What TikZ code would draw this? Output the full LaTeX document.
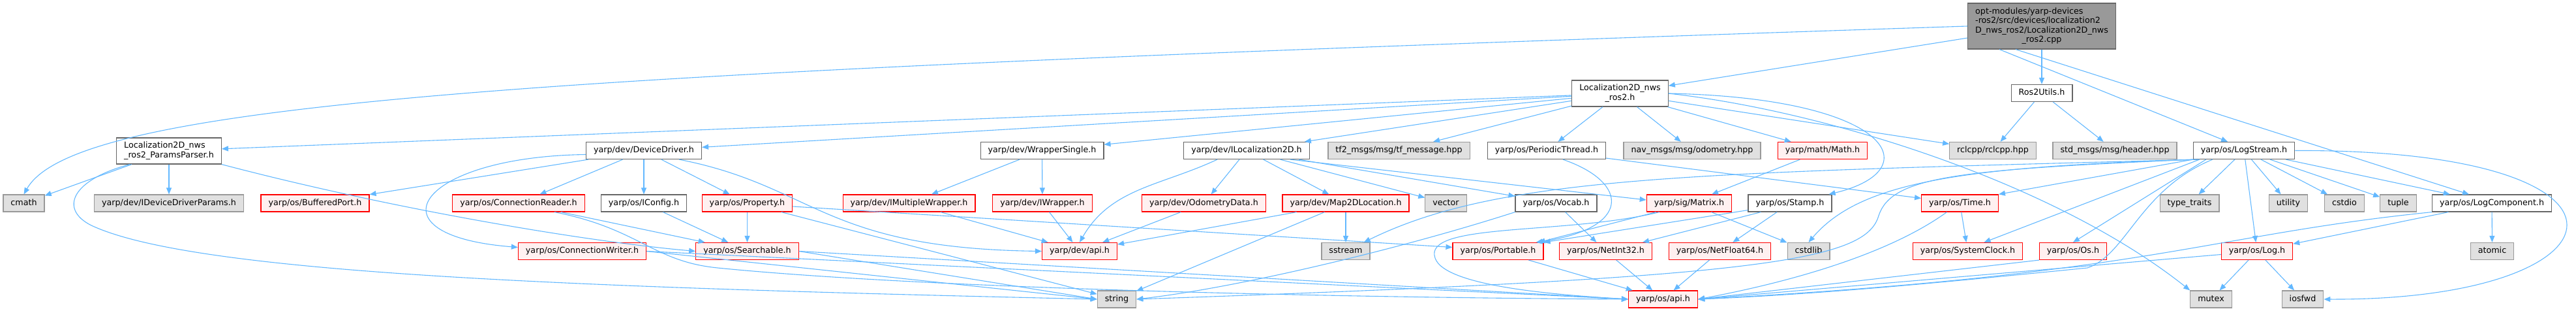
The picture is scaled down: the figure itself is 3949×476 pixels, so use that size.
\documentclass[tikz,border=0pt]{standalone}
\usepackage{fontspec}
\newfontfamily\dxfont{DejaVu Sans}
\usetikzlibrary{arrows.meta}
\definecolor{edgeblue}{HTML}{63B8FF}
\definecolor{hdrline}{HTML}{666666}
\definecolor{sysfill}{HTML}{E0E0E0}
\definecolor{sysline}{HTML}{999999}
\definecolor{incfill}{HTML}{FFF0F0}
\definecolor{incline}{HTML}{FF0000}
\definecolor{mainfill}{HTML}{999999}
\newcommand{\splitname}[2]{\begin{tabular}{@{}l@{}}#1\\\multicolumn{1}{@{}c@{}}{#2}\end{tabular}}
\begin{document}
\begin{tikzpicture}[x=1pt, y=-1pt,
  box/.style={draw, line width=1.2pt, font=\dxfont\fontsize{12.7}{14.5}\selectfont, inner xsep=11.5pt, inner ysep=2pt, minimum height=26pt, text height=9.6pt, text depth=2.9pt},
  hdr/.style={box, draw=hdrline, fill=white},
  sys/.style={box, draw=sysline, fill=sysfill},
  inc/.style={box, draw=incline, fill=incfill},
  multi/.style={text height={}, text depth={}, minimum height=40pt},
  main/.style={box, multi, draw=hdrline, fill=mainfill, minimum height=70pt},
  dep/.style={draw=edgeblue, line width=1.1pt, -{Triangle[length=10pt,width=8pt]}}]
\useasboundingbox (0,0) rectangle (3949,476);
\node[main] (cpp) at (3130,40) {\begin{tabular}{@{}l@{}}opt-modules/yarp-devices\\-ros2/src/devices/localization2\\D\_nws\_ros2/Localization2D\_nws\\\multicolumn{1}{@{}c@{}}{\_ros2.cpp}\end{tabular}};
\node[hdr, multi] (loc) at (2483.5,143) {\splitname{Localization2D\_nws}{\_ros2.h}};
\node[hdr] (rosutils) at (3130,142.5) {Ros2Utils.h};
\node[hdr, multi] (params) at (259,231) {\splitname{Localization2D\_nws}{\_ros2\_ParamsParser.h}};
\node[hdr] (devdrv) at (987,230.5) {yarp/dev/DeviceDriver.h};
\node[hdr] (wrapsingle) at (1597.5,230.5) {yarp/dev/WrapperSingle.h};
\node[hdr] (iloc) at (1911,230.5) {yarp/dev/ILocalization2D.h};
\node[sys] (tfmsg) at (2144.5,230.5) {tf2\_msgs/msg/tf\_message.hpp};
\node[hdr] (periodic) at (2371,230.5) {yarp/os/PeriodicThread.h};
\node[sys] (navodom) at (2594,230.5) {nav\_msgs/msg/odometry.hpp};
\node[inc] (math) at (2794,230.5) {yarp/math/Math.h};
\node[sys] (rclcpp) at (3055,230.5) {rclcpp/rclcpp.hpp};
\node[sys] (header) at (3242,230.5) {std\_msgs/msg/header.hpp};
\node[hdr] (logstream) at (3440,230.5) {yarp/os/LogStream.h};
\node[sys] (cmath) at (36.5,311) {cmath};
\node[sys] (ddparams) at (259,311) {yarp/dev/IDeviceDriverParams.h};
\node[inc] (bufport) at (483,311) {yarp/os/BufferedPort.h};
\node[inc] (connreader) at (795,311) {yarp/os/ConnectionReader.h};
\node[hdr] (iconfig) at (987,311) {yarp/os/IConfig.h};
\node[inc] (property) at (1145.5,311) {yarp/os/Property.h};
\node[inc] (imulti) at (1393.5,311) {yarp/dev/IMultipleWrapper.h};
\node[inc] (iwrapper) at (1598,311) {yarp/dev/IWrapper.h};
\node[inc] (odom) at (1845.5,311) {yarp/dev/OdometryData.h};
\node[inc] (map2d) at (2063,311) {yarp/dev/Map2DLocation.h};
\node[sys] (vector) at (2216.5,311) {vector};
\node[hdr] (vocab) at (2385.5,311) {yarp/os/Vocab.h};
\node[inc] (matrix) at (2589.5,311) {yarp/sig/Matrix.h};
\node[hdr] (stamp) at (2744,311) {yarp/os/Stamp.h};
\node[inc] (time) at (3004.5,311) {yarp/os/Time.h};
\node[sys] (typetraits) at (3356.5,311) {type\_traits};
\node[sys] (utility) at (3508,311) {utility};
\node[sys] (cstdio) at (3594,311) {cstdio};
\node[sys] (tuple) at (3676.5,311) {tuple};
\node[hdr] (logcomp) at (3820,311) {yarp/os/LogComponent.h};
\node[inc] (connwriter) at (892.5,384.5) {yarp/os/ConnectionWriter.h};
\node[inc] (searchable) at (1145.5,384.5) {yarp/os/Searchable.h};
\node[inc] (devapi) at (1655,384.5) {yarp/dev/api.h};
\node[sys] (sstream) at (2063,384.5) {sstream};
\node[inc] (portable) at (2296.5,384.5) {yarp/os/Portable.h};
\node[inc] (netint) at (2461.5,384.5) {yarp/os/NetInt32.h};
\node[inc] (netfloat) at (2636.5,384.5) {yarp/os/NetFloat64.h};
\node[sys] (cstdlib) at (2772.5,384.5) {cstdlib};
\node[inc] (sysclock) at (3016.5,384.5) {yarp/os/SystemClock.h};
\node[inc] (os) at (3178,384.5) {yarp/os/Os.h};
\node[inc] (log) at (3460,384.5) {yarp/os/Log.h};
\node[sys] (atomic) at (3820.5,384.5) {atomic};
\node[sys] (string) at (1712,458) {string};
\node[inc] (osapi) at (2549.5,458) {yarp/os/api.h};
\node[sys] (mutex) at (3389.5,458) {mutex};
\node[sys] (iosfwd) at (3530,458) {iosfwd};
\draw[dep] (cpp) -- (loc);
\draw[dep] (cpp) -- (rosutils);
\draw[dep] (cpp.west) .. controls (900,110) and (120,150) .. (cmath.north);
\draw[dep] ([xshift=-65pt]cpp.south) -- ([xshift=-25pt]logstream.north);
\draw[dep] ([xshift=-40pt]cpp.south) -- ([xshift=-35pt]logcomp.north);
\draw[dep] (rosutils) -- (rclcpp);
\draw[dep] (rosutils) -- (header);
\draw[dep] (loc) -- (params);
\draw[dep] (loc) -- (devdrv);
\draw[dep] (loc) -- (wrapsingle);
\draw[dep] (loc) -- (iloc);
\draw[dep] (loc) -- (tfmsg);
\draw[dep] (loc) -- (periodic);
\draw[dep] (loc) -- (navodom);
\draw[dep] (loc) -- (math);
\draw[dep] (loc) -- (rclcpp);
\draw[dep] (loc.east) .. controls (2900,150) and (2960,260) .. ([xshift=-5pt]stamp.north east);
\draw[dep] (loc.east) .. controls (2800,170) and (3150,280) .. (mutex.north west);
\draw[dep] (params) -- (cmath);
\draw[dep] (params) -- (ddparams);
\draw[dep] (params.south east) .. controls (600,320) and (900,370) .. (searchable.west);
\draw[dep] ([xshift=-60pt]params.south) .. controls (110,275) and (90,320) .. (140,345) .. controls (300,420) and (900,440) .. (string.west);
\draw[dep] (devdrv) -- (bufport);
\draw[dep] (devdrv) -- (connreader);
\draw[dep] (devdrv) -- (iconfig);
\draw[dep] (devdrv) -- (property);
\draw[dep] ([yshift=-6pt]devdrv.west) .. controls (640,240) and (560,360) .. ([yshift=6pt]connwriter.west);
\draw[dep] ([xshift=-35pt]devdrv.south east) .. controls (1250,285) and (1260,380) .. (devapi.west);
\draw[dep] (connreader) -- (searchable);
\draw[dep] ([xshift=55pt]connreader.south) .. controls (980,350) and (1000,400) .. (1100,410) .. controls (1400,440) and (2000,455) .. (osapi.west);
\draw[dep] (connwriter.east) -- (osapi.west);
\draw[dep] (connwriter.east) -- (string.west);
\draw[dep] (iconfig) -- (searchable);
\draw[dep] (property) -- (searchable);
\draw[dep] (property) -- (string);
\draw[dep] ([yshift=-5pt]property.east) -- ([yshift=6pt]portable.west);
\draw[dep] (searchable.east) -- (osapi.west);
\draw[dep] (searchable.east) -- (string.west);
\draw[dep] (wrapsingle) -- (imulti);
\draw[dep] (wrapsingle) -- (iwrapper);
\draw[dep] (imulti) -- (devapi);
\draw[dep] (iwrapper) -- (devapi);
\draw[dep] (iloc) -- (odom);
\draw[dep] (iloc) -- (map2d);
\draw[dep] (iloc) -- (vector);
\draw[dep] (iloc) -- (vocab);
\draw[dep] ([xshift=-30pt]iloc.south east) -- ([yshift=5pt]matrix.west);
\draw[dep] ([xshift=-45pt]iloc.south) to[out=205, in=60] (devapi.north);
\draw[dep] (odom) -- (devapi);
\draw[dep] (map2d) -- (devapi);
\draw[dep] (map2d) -- (sstream);
\draw[dep] (map2d) -- (string);
\draw[dep] (vocab) -- (netint);
\draw[dep] (vocab.south west) .. controls (2150,380) and (1900,440) .. (string.east);
\draw[dep] ([xshift=25pt]periodic.south) .. controls (2500,280) and (2500,350) .. ([xshift=-12pt]portable.north east);
\draw[dep] (periodic) -- (time);
\draw[dep] (math) -- (matrix);
\draw[dep] (matrix) -- (cstdlib);
\draw[dep] ([xshift=15pt]matrix.south west) -- ([xshift=-8pt]portable.north east);
\draw[dep] ([xshift=20pt]matrix.south west) .. controls (2400,360) and (2180,340) .. (2200,395) .. controls (2215,440) and (2400,452) .. (osapi.west);
\draw[dep] ([yshift=3pt]stamp.south west) -- (portable.north east);
\draw[dep] ([xshift=20pt]stamp.south west) -- ([xshift=-15pt]netint.north east);
\draw[dep] (stamp) -- (netfloat);
\draw[dep] (portable) -- (osapi);
\draw[dep] (netint) -- (osapi);
\draw[dep] (netfloat) -- (osapi);
\draw[dep] (time) -- (sysclock);
\draw[dep] ([xshift=-20pt]time.south) .. controls (2880,400) and (2700,440) .. (osapi.east);
\draw[dep] (os.south west) -- (osapi.east);
\draw[dep] ([yshift=-5pt]log.west) -- (osapi.east);
\draw[dep] (log) -- (mutex);
\draw[dep] (log) -- (iosfwd);
\draw[dep] (logcomp) -- (log);
\draw[dep] (logcomp) -- (atomic);
\draw[dep] (logcomp.south west) .. controls (3380,360) and (3300,420) .. (osapi.east);
\draw[dep] (logstream) -- (typetraits);
\draw[dep] (logstream) -- (log);
\draw[dep] (logstream) -- (utility);
\draw[dep] (logstream) -- (cstdio);
\draw[dep] (logstream) -- (tuple);
\draw[dep] (logstream) -- (logcomp);
\draw[dep] (logstream.east) .. controls (4090,228) and (4040,460) .. (iosfwd.east);
\draw[dep] (logstream.south west) -- (time.north east);
\draw[dep] ([xshift=10pt]logstream.south west) -- ([xshift=25pt]sysclock.north);
\draw[dep] ([xshift=20pt]logstream.south west) -- (os.north);
\draw[dep] ([xshift=10pt]logstream.south west) .. controls (3000,255) and (2850,280) .. (cstdlib.north);
\draw[dep] ([xshift=5pt]logstream.south west) .. controls (2600,265) and (2300,268) .. ([xshift=-10pt]sstream.north east);
\draw[dep] (logstream.south west) .. controls (3000,260) and (2900,270) .. (2880,330) .. controls (2860,400) and (2700,425) .. (string.east);
\draw[dep] ([xshift=30pt]logstream.south west) .. controls (3280,290) and (3260,390) .. (3200,410) .. controls (3000,430) and (2800,450) .. (osapi.east);
\end{tikzpicture}
\end{document}
